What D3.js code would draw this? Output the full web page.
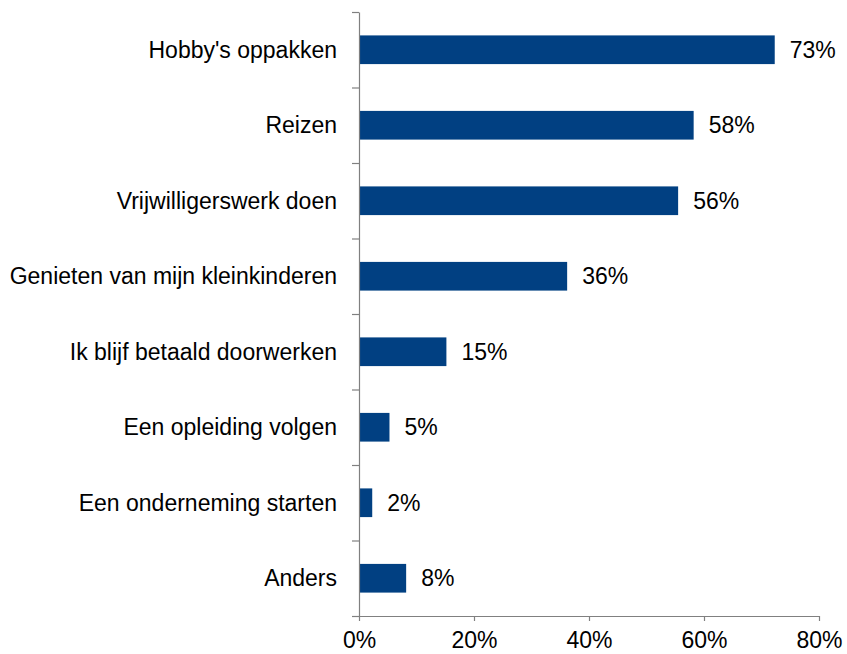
<!DOCTYPE html>
<html>
<head>
<meta charset="utf-8">
<script src="https://cdn.jsdelivr.net/npm/d3@7"></script>
<style>
  html, body { margin: 0; padding: 0; background: #ffffff; }
  svg { display: block; font-family: "Liberation Sans", Arial, sans-serif; }
</style>
</head>
<body>
<svg id="chart" width="847" height="654"></svg>
<script>
const categories = [
  "Hobby's oppakken",
  "Reizen",
  "Vrijwilligerswerk doen",
  "Genieten van mijn kleinkinderen",
  "Ik blijf betaald doorwerken",
  "Een opleiding volgen",
  "Een onderneming starten",
  "Anders"
];
const values = [72.3, 58.2, 55.5, 36.2, 15.2, 5.3, 2.3, 8.2];
const valueLabels = ["73%", "58%", "56%", "36%", "15%", "5%", "2%", "8%"];
const xTicks = [0, 20, 40, 60, 80];

(function () {
const svg = d3.select("#chart");
const mLeft = 359, mRight = 819, mTop = 12, mBottom = 616;
const barColor = "#014082";
const axisColor = "#808080";
const fontSize = 23;

const x = d3.scaleLinear().domain([0, 80]).range([mLeft, mRight]);
const pInner = 0.62;
const y = d3.scaleBand().domain(categories).range([mTop, mBottom])
  .paddingInner(pInner).paddingOuter(pInner / 2);
const yBound = d3.scaleLinear().domain([0, categories.length]).range([mTop, mBottom]);

// bars
svg.append("g").selectAll("rect").data(categories).join("rect")
  .attr("x", x(0))
  .attr("y", d => y(d))
  .attr("width", (d, i) => x(values[i]) - x(0))
  .attr("height", y.bandwidth())
  .attr("fill", barColor);

// value labels
svg.append("g").selectAll("text").data(categories).join("text")
  .attr("x", (d, i) => x(values[i]) + 15)
  .attr("y", d => y(d) + y.bandwidth() / 2)
  .attr("dy", "0.34em")
  .attr("font-size", fontSize)
  .attr("fill", "#000")
  .text((d, i) => valueLabels[i]);

// category labels
svg.append("g").selectAll("text").data(categories).join("text")
  .attr("x", mLeft - 22)
  .attr("y", d => y(d) + y.bandwidth() / 2)
  .attr("dy", "0.34em")
  .attr("text-anchor", "end")
  .attr("font-size", fontSize)
  .attr("fill", "#000")
  .text(d => d);

// y axis (boundary ticks)
const yAxis = svg.append("g")
  .attr("transform", `translate(${mLeft},0)`)
  .call(d3.axisLeft(yBound).tickValues(d3.range(categories.length + 1)).tickSize(7).tickSizeOuter(0).tickFormat(""));
yAxis.selectAll("path, line").attr("stroke", axisColor).attr("stroke-width", 1.2);

// x axis
const xAxis = svg.append("g")
  .attr("transform", `translate(0,${mBottom})`)
  .call(d3.axisBottom(x).tickValues(xTicks).tickSize(5).tickSizeOuter(0).tickPadding(11).tickFormat(d => d + "%"));
xAxis.selectAll("path, line").attr("stroke", axisColor).attr("stroke-width", 1.2);
xAxis.selectAll("text").attr("font-size", fontSize).attr("fill", "#000")
  .attr("font-family", "Liberation Sans, Arial, sans-serif");
})();
</script>
</body>
</html>
